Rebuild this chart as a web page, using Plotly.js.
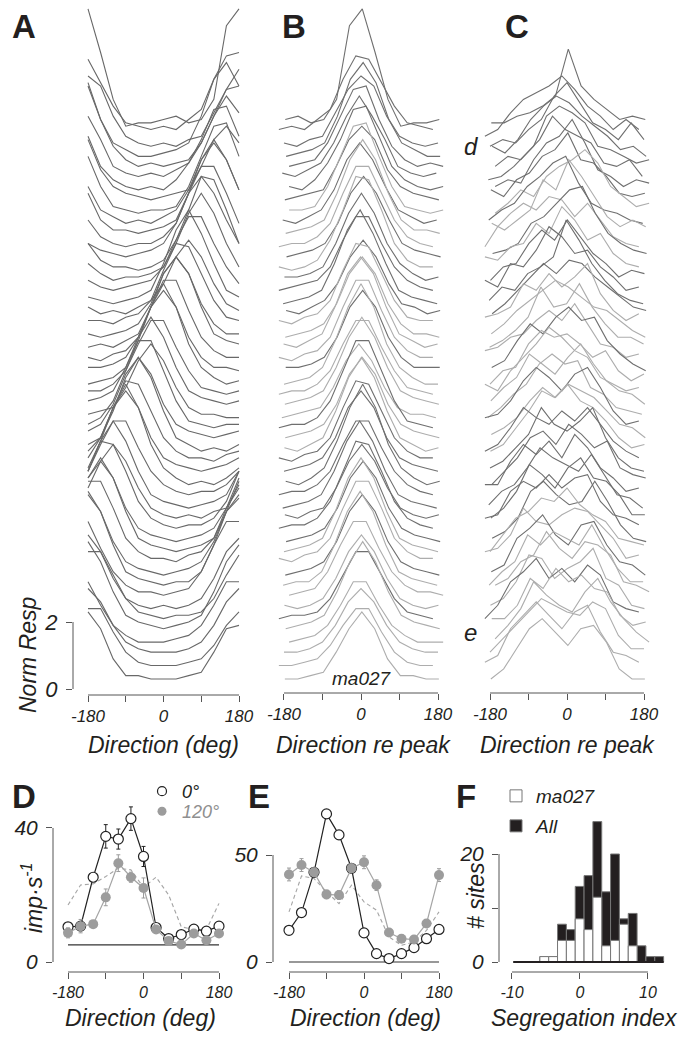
<!DOCTYPE html>
<html><head><meta charset="utf-8">
<script src="https://cdn.plot.ly/plotly-3.0.1.min.js"></script>
<style>html,body{margin:0;padding:0;background:#fff}#chart{width:690px;height:1037px}</style>
</head><body><div id="chart"></div>
<script>
// ---------------- DATA ----------------
const dirs = [-180,-150,-120,-90,-60,-30,0,30,60,90,120,150,180];

// vertical stacking offset (Norm Resp units) of each site, top to bottom
const offsets = [16.8,16.5,16.1,15.8,15.4,15.1,14.8,14.5,14.1,13.8,13.5,13.1,12.8,12.4,12.1,11.8,11.4,11.1,10.8,10.4,
  10.1,9.7,9.4,9.0,8.7,8.4,8.0,7.7,7.4,7.0,6.7,6.4,6.0,5.7,5.3,5.0,4.7,4.3,4.0,3.7,3.3,3.0,2.7,2.3,2.0,1.7,1.3,1.0,0.6,0.3];

// panel A: normalised responses at dirs for each site
const respA = [
 [3.5,2.2,0.8,0.0,0.1,0.1,0.2,0.3,0.1,0.2,0.8,3.0,3.5],
 [2.3,1.6,0.9,0.4,0.3,0.2,0.3,0.2,0.5,0.8,1.7,2.4,2.5],
 [2.2,1.9,1.0,0.4,0.2,0.1,0.2,0.1,0.3,0.4,1.1,1.8,2.4],
 [2.3,1.2,0.5,0.3,0.1,0.1,0.2,0.3,0.5,1.3,2.4,2.9,2.2],
 [2.6,1.6,0.8,0.4,0.2,0.3,0.2,0.3,0.4,0.9,1.7,2.5,2.6],
 [2.0,1.3,0.5,0.3,0.2,0.3,0.2,0.4,0.6,1.2,2.0,2.6,2.1],
 [1.7,0.8,0.4,0.2,0.1,0.2,0.1,0.4,0.9,1.6,2.5,2.6,1.7],
 [1.9,1.0,0.5,0.3,0.2,0.1,0.2,0.3,0.4,1.1,1.9,2.3,1.8],
 [1.8,0.9,0.3,0.2,0.1,0.2,0.2,0.3,0.9,1.8,2.7,2.8,1.8],
 [1.2,0.5,0.3,0.1,0.2,0.1,0.3,0.5,1.1,2.0,2.5,2.0,1.1],
 [1.3,0.5,0.2,0.2,0.1,0.2,0.3,0.5,1.3,2.3,2.9,2.3,1.4],
 [0.9,0.4,0.2,0.1,0.2,0.2,0.4,0.8,1.7,2.5,2.5,1.7,0.8],
 [0.5,0.3,0.2,0.1,0.2,0.3,0.5,1.1,2.0,2.5,2.0,1.2,0.5],
 [0.9,0.4,0.2,0.2,0.1,0.2,0.4,1.0,1.9,2.9,2.8,1.9,0.9],
 [0.6,0.3,0.1,0.2,0.2,0.3,0.5,1.2,2.1,2.7,2.1,1.2,0.5],
 [0.4,0.2,0.1,0.2,0.3,0.4,0.8,1.6,2.3,2.3,1.5,0.8,0.3],
 [0.3,0.2,0.1,0.2,0.3,0.5,1.3,2.3,2.9,2.2,1.3,0.5,0.3],
 [0.3,0.1,0.2,0.1,0.3,0.5,1.0,1.8,2.3,1.8,1.0,0.4,0.2],
 [0.2,0.2,0.1,0.3,0.4,0.8,1.7,2.5,2.4,1.6,0.8,0.3,0.2],
 [0.2,0.1,0.2,0.3,0.5,1.1,2.0,2.5,2.0,1.1,0.5,0.2,0.2],
 [0.1,0.2,0.1,0.3,0.5,1.3,2.3,2.8,2.3,1.3,0.5,0.3,0.2],
 [0.2,0.1,0.3,0.4,0.8,1.7,2.5,2.5,1.6,0.8,0.4,0.2,0.2],
 [0.2,0.2,0.3,0.5,1.1,2.0,2.5,2.0,1.1,0.5,0.2,0.2,0.1],
 [0.1,0.2,0.3,0.6,1.4,2.4,3.1,2.4,1.3,0.6,0.3,0.1,0.2],
 [0.2,0.2,0.4,0.8,1.6,2.3,2.3,1.5,0.8,0.3,0.2,0.1,0.2],
 [0.2,0.3,0.5,1.2,2.1,2.7,2.1,1.2,0.5,0.3,0.2,0.1,0.2],
 [0.2,0.3,0.4,1.0,1.8,2.3,1.8,1.0,0.4,0.2,0.2,0.1,0.1],
 [0.2,0.4,0.9,1.8,2.7,2.7,1.8,0.9,0.3,0.2,0.1,0.2,0.2],
 [0.3,0.5,1.1,2.0,2.5,2.0,1.1,0.5,0.3,0.2,0.1,0.2,0.3],
 [0.3,0.5,1.3,2.3,2.9,2.3,1.3,0.5,0.3,0.1,0.2,0.1,0.3],
 [0.4,0.8,1.7,2.5,2.4,1.6,0.8,0.4,0.2,0.2,0.1,0.3,0.4],
 [0.5,1.1,2.0,2.5,2.0,1.1,0.5,0.3,0.2,0.1,0.2,0.3,0.5],
 [0.6,1.4,2.4,3.1,2.4,1.3,0.6,0.3,0.1,0.2,0.1,0.3,0.6],
 [0.8,1.6,2.3,2.3,1.5,0.8,0.4,0.2,0.1,0.2,0.2,0.4,0.8],
 [1.2,2.1,2.7,2.1,1.2,0.5,0.3,0.2,0.1,0.2,0.3,0.5,1.2],
 [1.0,1.8,2.3,1.8,1.0,0.4,0.2,0.1,0.2,0.1,0.3,0.4,1.0],
 [1.8,2.7,2.6,1.8,0.9,0.4,0.2,0.1,0.2,0.2,0.4,0.9,1.8],
 [2.0,2.5,2.0,1.1,0.5,0.3,0.2,0.1,0.2,0.3,0.5,1.1,2.0],
 [2.3,2.9,2.3,1.3,0.5,0.3,0.2,0.1,0.2,0.3,0.5,1.3,2.2],
 [2.5,2.5,1.7,0.8,0.4,0.2,0.2,0.1,0.3,0.4,0.8,1.7,2.4],
 [2.5,2.0,1.1,0.5,0.3,0.2,0.1,0.2,0.3,0.5,1.1,2.0,2.4],
 [2.9,2.3,1.3,0.5,0.3,0.2,0.1,0.2,0.2,0.5,1.3,2.3,2.8],
 [2.3,1.5,0.8,0.4,0.2,0.2,0.1,0.2,0.3,0.8,1.6,2.3,2.3],
 [2.3,1.8,1.0,0.4,0.2,0.1,0.2,0.1,0.2,0.4,1.0,1.8,2.2],
 [2.1,2.1,1.4,0.7,0.3,0.2,0.1,0.2,0.2,0.3,0.7,1.4,2.0],
 [2.7,2.1,1.2,0.5,0.3,0.2,0.1,0.2,0.3,0.5,1.2,2.1,2.6],
 [1.9,1.2,0.6,0.3,0.1,0.1,0.1,0.2,0.3,0.6,1.2,1.9,1.9],
 [2.0,1.6,0.9,0.4,0.2,0.1,0.1,0.1,0.2,0.4,0.9,1.6,2.0],
 [1.8,1.8,1.1,0.5,0.2,0.1,0.1,0.1,0.2,0.3,0.7,1.3,1.7],
 [2.0,1.5,0.6,0.1,0.1,0.0,0.0,0.0,0.1,0.2,0.8,1.5,1.6]
];

// panels B, C: offset (deg) of each site's sampled directions relative to its fitted peak
const shiftB = [3,-12,0,5,12,-4,12,2,12,-3,4,-12,6,-12,1,-12,-2,5,-12,3,-1,-12,4,0,-12,
  2,-5,-12,3,1,-12,0,4,-12,-3,2,-12,5,0,-12,3,-2,12,1,-12,4,12,0,-12,2];

// panel C: responses in the second condition, re peak
const respC = [
 [0.1,0.1,0.3,0.4,0.6,0.9,2.3,1.2,0.8,0.5,0.2,0.3,0.2],
 [0.0,0.2,0.7,1.1,1.3,1.5,1.8,1.4,0.9,0.6,0.2,0.5,0.2],
 [0.1,0.3,0.2,0.6,0.9,1.6,2.0,1.4,0.8,0.6,0.3,0.8,0.3],
 [0.4,0.2,0.6,1.2,1.6,1.9,1.7,1.3,1.0,0.7,0.3,0.4,0.1],
 [0.2,0.5,0.4,0.8,1.7,2.0,1.8,1.5,0.8,0.7,0.5,0.3,0.4],
 [0.1,0.2,0.5,0.9,1.3,2.0,1.6,1.4,1.2,0.6,0.5,0.7,0.2],
 [0.2,0.4,0.3,1.0,1.5,1.7,2.2,1.5,0.7,0.5,0.2,0.4,0.3],
 [0.4,0.2,0.7,0.9,1.4,1.6,2.1,1.3,1.2,0.8,0.3,0.2,0.3],
 [0.1,0.4,0.8,0.6,1.2,1.5,1.7,2.0,1.6,0.9,0.6,0.3,0.4],
 [0.2,0.5,0.7,1.2,1.5,1.9,2.1,1.3,0.7,0.5,0.4,0.2,0.1],
 [0.4,0.2,0.5,0.8,1.7,1.4,2.3,1.8,1.2,0.6,0.3,0.5,0.3],
 [0.1,0.7,1.1,1.4,1.2,1.6,1.5,1.0,1.4,0.9,0.4,0.2,0.1],
 [0.2,0.3,0.5,1.1,1.3,1.7,2.1,2.2,1.4,0.8,0.5,0.3,0.2],
 [0.5,0.4,0.8,0.9,1.5,1.2,2.0,1.6,1.0,1.2,0.6,0.3,0.2],
 [0.1,0.5,0.6,1.2,1.6,1.3,1.9,1.4,0.9,0.6,0.2,0.4,0.3],
 [0.4,0.2,0.9,0.8,1.3,2.0,1.7,1.2,1.3,0.8,0.5,0.1,0.2],
 [0.2,0.6,0.5,1.0,1.2,1.5,2.6,2.0,1.3,0.8,0.4,0.2,0.1],
 [0.1,0.4,0.8,1.2,1.6,1.3,1.7,1.6,1.2,0.9,0.6,0.3,0.2],
 [0.3,0.4,0.6,1.3,1.1,1.6,1.2,1.5,1.9,1.0,0.5,0.2,0.4],
 [0.2,0.5,0.9,1.2,1.5,1.8,1.6,1.3,1.0,0.9,0.6,0.3,0.1],
 [0.1,0.3,0.6,1.0,1.9,1.3,1.4,2.0,1.3,0.8,0.4,0.4,0.2],
 [0.4,0.5,0.8,0.9,1.3,1.6,1.3,1.8,1.2,0.6,0.5,0.2,0.3],
 [0.2,0.4,1.0,1.5,1.2,1.7,2.0,1.6,1.7,1.0,0.6,0.3,0.1],
 [0.1,0.5,0.6,1.3,1.7,1.5,1.6,1.3,0.9,1.1,0.5,0.2,0.4],
 [0.4,0.2,0.8,1.2,1.6,2.1,1.8,1.4,1.2,0.6,0.4,0.2,0.3],
 [0.2,0.6,0.9,1.6,1.3,1.0,1.5,1.9,1.3,0.8,0.5,0.4,0.1],
 [0.1,0.4,0.8,1.1,1.7,2.0,1.7,1.8,1.0,0.8,0.4,0.3,0.2],
 [0.4,0.5,0.9,1.5,1.9,1.6,1.2,1.7,1.9,1.3,0.6,0.2,0.3],
 [0.2,0.4,0.7,1.2,1.6,1.3,1.7,1.5,1.3,0.9,0.5,0.4,0.1],
 [0.1,0.3,0.8,1.3,1.9,1.7,2.1,1.6,1.4,1.0,0.5,0.2,0.3],
 [0.4,0.6,1.1,1.7,1.4,1.2,1.6,1.3,1.7,1.2,0.7,0.4,0.2],
 [0.2,0.4,0.8,1.2,2.0,1.5,1.3,1.6,2.0,1.1,0.5,0.2,0.1],
 [0.1,0.5,0.9,1.5,1.7,1.3,1.9,1.6,1.2,1.4,0.6,0.4,0.3],
 [0.4,0.4,1.1,1.6,1.3,1.7,1.2,1.9,1.5,0.9,0.6,0.2,0.3],
 [0.2,0.6,0.8,1.3,1.9,1.6,1.4,1.2,1.7,1.1,0.5,0.4,0.1],
 [0.1,0.4,0.9,1.7,1.4,1.0,1.6,1.9,1.3,1.2,0.8,0.2,0.2],
 [0.4,0.5,1.2,1.5,1.3,1.7,1.3,1.6,1.7,0.9,0.5,0.4,0.2],
 [0.2,0.4,0.8,1.6,1.9,1.5,1.2,1.3,1.9,1.3,0.6,0.2,0.1],
 [0.1,0.6,1.1,1.3,1.7,1.6,2.0,1.5,1.2,1.0,0.5,0.4,0.3],
 [0.4,0.5,0.9,1.7,1.3,1.2,1.5,1.7,1.6,1.2,0.8,0.2,0.3],
 [0.2,0.4,1.2,1.5,1.9,1.3,1.0,1.6,1.7,1.0,0.5,0.4,0.1],
 [0.1,0.5,0.8,1.6,1.3,1.7,1.5,1.3,1.9,1.2,0.6,0.2,0.2],
 [0.4,0.6,1.1,1.3,2.0,1.5,1.2,1.7,1.6,1.3,0.5,0.4,0.2],
 [0.2,0.4,0.9,1.7,1.6,1.0,1.3,1.5,1.9,1.0,0.8,0.2,0.1],
 [0.1,0.5,1.2,1.5,1.9,1.3,1.6,1.2,1.7,1.4,0.6,0.4,0.3],
 [0.4,0.4,0.8,1.6,1.3,1.9,1.5,1.7,1.3,1.2,0.5,0.2,0.3],
 [0.2,0.6,1.1,1.9,1.5,1.2,1.0,1.6,2.0,1.3,0.8,0.4,0.1],
 [0.1,0.5,0.9,1.3,1.7,1.5,1.3,1.2,1.6,1.4,0.6,0.2,0.2],
 [0.2,0.4,1.2,1.6,2.0,1.6,1.2,1.7,1.9,1.1,0.5,0.4,0.2],
 [0.0,0.3,0.9,1.5,1.8,1.4,1.0,1.5,1.6,1.1,0.3,0.0,0.0]
];

// 0 = dark trace, 1 = light trace (panels B, C)
const colorGroup = [0,0,0,0,0,0,0,0, 1,0,1,1,0,1, 0,0,0,0, 1,1,1,1,0,1,1,1,1,0,1,1,
  0,0,0,0,0,0,0,0, 1,1,0,1,1,1,0,1,1,1,1,1];

// panel D (site d): mean rate (imp/s) at dirs
const dOpen    = [10.5,10.7,25.3,37.5,36.7,42.8,31.5,10.3,7.0,8.2,9.8,9.2,10.7];
const dOpenErr = [1.0,1.0,1.0,3.5,3.0,3.5,3.0,1.0,0.8,0.8,1.0,0.8,1.0];
const dGray    = [8.7,10.7,11.3,19.3,29.5,25.3,22.1,9.7,6.3,5.2,8.5,6.5,8.5];
const dGrayErr = [1.5,2.0,1.0,2.5,2.5,1.5,3.0,1.0,1.0,0.8,1.0,0.8,1.0];
const dDash    = [17.0,23.0,23.3,25.5,28.0,27.5,22.3,25.3,20.0,10.5,9.7,9.7,17.5];
const dSpont   = 5.1;

// panel E (site e)
const eOpen    = [14.8,23.1,41.9,69.2,59.4,43.8,13.6,3.9,1.6,3.9,6.7,10.9,15.2];
const eOpenErr = [0.8,0.8,0.8,1.5,1.5,1.0,0.8,0.5,0.5,0.5,0.5,0.5,0.5];
const eGray    = [40.9,45.3,41.9,31.6,31.3,43.8,46.6,35.9,13.8,10.9,10.5,18.0,40.6];
const eGrayErr = [3.0,3.0,2.0,2.0,2.0,2.0,3.0,2.5,1.5,1.0,1.0,1.5,3.0];
const eDash    = [23.4,40.2,39.0,32.8,27.3,35.9,28.1,24.2,11.7,7.8,9.4,14.8,23.4];
const eSpont   = 0;

// panel F: histogram of segregation index
const binCenters = [-9.15,-7.85,-6.55,-5.25,-3.95,-2.65,-1.35,-0.05,1.25,2.55,3.85,5.15,6.45,7.75,9.05,10.35,11.65];
const binWidth = 1.3;
const allCounts = [0,0,0,1,1,7,6,14,16,26,13,20,8,9,3,1,1];
const maCounts  = [0,0,0,1,1,4,4,8,6,12,3,4,7,3,0,0,0];

const dirTicks = [-180,0,180];
const dirMinor = [-90,90];

// ---------------- STYLE / LAYOUT ----------------
const FONT = 'Liberation Sans, Arial, Helvetica, sans-serif';
const TXT = '#231f20';
const W = 690, H = 1037;
const px = v => v / W, py = v => 1 - v / H;
const groupColors = ['#6f6f6f', '#adadad'];

const traces = [];
const base = {type:'scatter', mode:'lines', hoverinfo:'skip', showlegend:false};

// A
offsets.forEach((o, i) => {
  traces.push(Object.assign({}, base, {x: dirs, y: respA[i].map(v => o + v), xaxis:'x', yaxis:'y',
    line:{color:'#686868', width:1.1}}));
});
// B (same sites, realigned on peak)
offsets.forEach((o, i) => {
  const r = respA[i];
  let pk = 0;
  for (let j = 1; j < 12; j++) if (r[j] > r[pk]) pk = j;
  const vals = dirs.map((d, k) => r[((pk - 6 + k) % 12 + 12) % 12]);
  traces.push(Object.assign({}, base, {x: dirs.map(d => d + shiftB[i]), y: vals.map(v => o + v),
    xaxis:'x2', yaxis:'y2', line:{color: groupColors[colorGroup[i]], width:1.1}}));
});
// C
offsets.forEach((o, i) => {
  traces.push(Object.assign({}, base, {x: dirs.map(d => d + shiftB[i]), y: respC[i].map(v => o + v),
    xaxis:'x3', yaxis:'y3', line:{color: groupColors[colorGroup[i]], width:1.1}}));
});

function tuning(xa, ya, open, openErr, gray, grayErr, dash, spont) {
  traces.push(Object.assign({}, base, {x:[dirs[0], dirs[dirs.length-1]], y:[spont, spont], xaxis:xa, yaxis:ya,
    line:{color:'#333', width:1.2}}));
  traces.push(Object.assign({}, base, {x:dirs, y:dash, xaxis:xa, yaxis:ya, line:{color:'#a5a5a5', width:1.1, dash:'4px,3px'}}));
  traces.push({type:'scatter', mode:'lines+markers', x:dirs, y:open, xaxis:xa, yaxis:ya, hoverinfo:'skip', showlegend:false,
    line:{color:'#222', width:1.2},
    marker:{symbol:'circle', size:10, color:'#fff', line:{color:'#222', width:1.2}},
    error_y:{type:'data', array:openErr, visible:true, color:'#222', thickness:1, width:2}});
  traces.push({type:'scatter', mode:'lines+markers', x:dirs, y:gray, xaxis:xa, yaxis:ya, hoverinfo:'skip', showlegend:false,
    line:{color:'#a5a5a5', width:1.2},
    marker:{symbol:'circle', size:10, color:'#9c9c9c', line:{color:'#9c9c9c', width:0}},
    error_y:{type:'data', array:grayErr, visible:true, color:'#9c9c9c', thickness:1, width:2}});
}
tuning('x4','y4', dOpen, dOpenErr, dGray, dGrayErr, dDash, dSpont);
tuning('x5','y5', eOpen, eOpenErr, eGray, eGrayErr, eDash, eSpont);

// legend entries for D
traces.push({type:'scatter', mode:'markers', x:[null], y:[null], xaxis:'x4', yaxis:'y4', name:'0°', legend:'legend',
  marker:{symbol:'circle', size:9, color:'#fff', line:{color:'#222', width:1.2}}, showlegend:true, hoverinfo:'skip'});
traces.push({type:'scatter', mode:'markers', x:[null], y:[null], xaxis:'x4', yaxis:'y4',
  name:'<span style="color:#8f8f8f">120°</span>', legend:'legend2',
  marker:{symbol:'circle', size:9, color:'#9c9c9c'}, showlegend:true, hoverinfo:'skip'});

// F
traces.push(Object.assign({}, base, {x:[binCenters[0] - binWidth/2, binCenters[binCenters.length-1] + binWidth/2], y:[0,0],
  xaxis:'x6', yaxis:'y6', line:{color:'#231f20', width:2}}));
traces.push({type:'bar', x:binCenters, y:allCounts, width:binWidth, xaxis:'x6', yaxis:'y6', name:'All', legend:'legend4',
  marker:{color:'#231f20', line:{color:'#777', width:1}}, showlegend:true, hoverinfo:'skip'});
traces.push({type:'bar', x:binCenters, y:maCounts, width:binWidth, xaxis:'x6', yaxis:'y6', name:'ma027', legend:'legend3',
  marker:{color:'#fff', line:{color:'#777', width:1}}, showlegend:true, hoverinfo:'skip'});

const minorStyle = v => ({tickmode:'array', tickvals:v, ticks:'outside', ticklen:6, tickwidth:1, tickcolor:'#555', showgrid:false});
function ax(domain, range, anchor, extra) {
  return Object.assign({domain, range, anchor, showgrid:false, zeroline:false, showline:false,
    ticks:'outside', ticklen:6, tickwidth:1, tickcolor:'#555', fixedrange:true, tickmode:'array',
    tickfont:{family:FONT, size:16, color:TXT, style:'italic'}}, extra);
}
const xTickFontTop = {family:FONT, size:17, color:TXT, style:'italic'};
const xTickFontBot = {family:FONT, size:16, color:TXT, style:'italic'};
const yTickFont = {family:FONT, size:22, color:TXT, style:'italic'};
const yTickFontBot = {family:FONT, size:21, color:TXT, style:'italic'};
const hidden = {visible:false};
const dirAx = f => ({tickvals:dirTicks, ticktext:dirTicks.map(String), minor:minorStyle(dirMinor), tickfont:f});

const topY = [py(695), 1];
const topY2 = [py(693), 1];
const botY = [py(972), py(770)];
const leg = (x, y, s) => ({x:px(x), y:py(y), xanchor:'left', yanchor:'top', bgcolor:'rgba(0,0,0,0)', itemwidth:30,
  font:{family:FONT, size:s, color:TXT, style:'italic'}});

const layout = {
  width: W, height: H, margin:{l:0, r:0, t:0, b:0}, paper_bgcolor:'#fff', plot_bgcolor:'rgba(0,0,0,0)',
  barmode:'overlay', showlegend:true, font:{family:FONT, color:TXT},
  xaxis:  ax([px(73), px(245)], [-215.8, 194.3], 'y', dirAx(xTickFontTop)),
  yaxis:  ax(topY, [-0.179, 20.567], 'x', {tickvals:[0,2], ticktext:['0','2'], tickfont:yTickFont, ticklabelstandoff:4}),
  xaxis2: ax([px(270), px(455)], [-212.7, 219.7], 'y2', dirAx(xTickFontTop)),
  yaxis2: ax(topY2, [-0.119, 20.567], 'x2', hidden),
  xaxis3: ax([px(478), px(665)], [-208.1, 229.1], 'y3', dirAx(xTickFontTop)),
  yaxis3: ax(topY2, [-0.119, 20.567], 'x3', hidden),
  xaxis4: ax([px(53), px(225)], [-215.8, 194.3], 'y4', dirAx(xTickFontBot)),
  yaxis4: ax(botY, [-2.985, 57.31], 'x4', {tickvals:[0,40], ticktext:['0','40'], tickfont:yTickFontBot, ticklabelstandoff:4}),
  xaxis5: ax([px(273), px(445)], [-218.4, 194.4], 'y5', dirAx(xTickFontBot)),
  yaxis5: ax(botY, [-4.673, 89.72], 'x5', {tickvals:[0,50], ticktext:['0','50'], tickfont:yTickFontBot, ticklabelstandoff:4}),
  xaxis6: ax([px(499), px(670)], [-11.91, 13.24], 'y6', {tickvals:[-10,0,10], ticktext:['-10','0','10'], tickfont:xTickFontBot}),
  yaxis6: ax(botY, [-1.852, 35.56], 'x6', {tickvals:[0,20], ticktext:['0','20'], minor:minorStyle([10]), tickfont:yTickFontBot, ticklabelstandoff:4}),
  legend:  leg(142, 773, 18),
  legend2: leg(142, 793, 18),
  legend3: leg(496, 777, 19),
  legend4: leg(496, 807, 19),
  shapes: [],
  annotations: []
};

const spine = {type:'line', line:{color:'#555', width:1}, layer:'above'};
function xSpine(xa, lo, hi) { layout.shapes.push(Object.assign({}, spine, {xref:xa, yref:xa.replace('x','y') + ' domain', x0:lo, x1:hi, y0:0, y1:0})); }
function ySpine(ya, lo, hi) { layout.shapes.push(Object.assign({}, spine, {yref:ya, xref:ya.replace('y','x') + ' domain', y0:lo, y1:hi, x0:0, x1:0})); }
xSpine('x', -180, 180); ySpine('y', 0, 2);
xSpine('x2', -180, 180); xSpine('x3', -180, 180);
xSpine('x4', -180, 180); ySpine('y4', 0, 40);
xSpine('x5', -180, 180); ySpine('y5', 0, 50);
xSpine('x6', -10, 10); ySpine('y6', 0, 20);

function note(text, x, y, size, opts) {
  layout.annotations.push(Object.assign({text, x:px(x), y:py(y), xref:'paper', yref:'paper', showarrow:false,
    xanchor:'center', yanchor:'middle', font:{family:FONT, size, color:TXT, style:'italic'}}, opts || {}));
}
const bold = s => ({xanchor:'left', font:{family:FONT, size:s, color:TXT, weight:'bold'}});
note('A', 10, 26, 33, bold(33)); note('B', 280, 26, 33, bold(33)); note('C', 503, 26, 33, bold(33));
note('D', 10, 796, 33, bold(33)); note('E', 246, 796, 33, bold(33)); note('F', 454, 796, 33, bold(33));
note('Norm Resp', 28, 655, 23, {textangle:-90});
note('Direction (deg)', 163, 745, 23);
note('Direction re peak', 363, 745, 23);
note('Direction re peak', 567, 745, 23);
note('ma027', 362, 678, 19);
note('d', 471, 146, 24);
note('e', 471, 632, 24);
note('imp·s<sup>-1</sup>', 32, 898, 23, {textangle:-90});
note('Direction (deg)', 140, 1018, 23);
note('Direction (deg)', 365, 1018, 23);
note('# sites', 476, 896, 23, {textangle:-90});
note('Segregation index', 584, 1018, 23);

Plotly.newPlot('chart', traces, layout, {staticPlot:true, displayModeBar:false});
</script>
</body></html>
